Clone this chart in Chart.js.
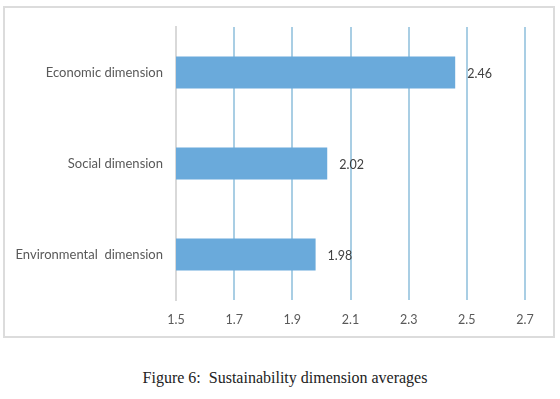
<!DOCTYPE html>
<html>
<head>
<meta charset="utf-8">
<script src="https://cdn.jsdelivr.net/npm/chart.js@4/dist/chart.umd.min.js"></script>
<style>
  body { margin: 0; background: #fff; width: 560px; height: 399px; position: relative; overflow: hidden; }
  #box { position: absolute; left: 3px; top: 6px; width: 548px; height: 328px; border: 2px solid #dcdcdc; }
  #box canvas { position: absolute; left: -2px; top: -2px; }
  #caption { position: absolute; left: 0; width: 570px; top: 369px; text-align: center;
             font-family: "Liberation Serif", serif; font-size: 16px; color: #222; }
</style>
</head>
<body>
<div id="box"><canvas id="chart" width="550" height="330"></canvas></div>
<div id="caption">Figure 6:&nbsp; Sustainability dimension averages</div>
<script>
const categories = ['Economic dimension', 'Social dimension', 'Environmental  dimension'];
const averages = [2.46, 2.02, 1.98];
const xTicks = [1.5, 1.7, 1.9, 2.1, 2.3, 2.5, 2.7];

const labelFont = { family: 'Lato, "Open Sans", sans-serif', size: 13 };
const tickFont = { family: 'Lato, "Open Sans", sans-serif', size: 12.5 };

// value labels to the right of each bar
const valueLabels = {
    id: 'valueLabels',
    afterDatasetsDraw(chart) {
        const ctx = chart.ctx;
        const meta = chart.getDatasetMeta(0);
        ctx.save();
        ctx.font = '12.5px Lato, "Open Sans", sans-serif';
        ctx.fillStyle = '#404040';
        ctx.textBaseline = 'middle';
        meta.data.forEach((bar, i) => {
            ctx.fillText(averages[i].toFixed(2), bar.x + 12, bar.y + 1);
        });
        ctx.restore();
    }
};

const CHART = document.getElementById('chart');
let barChart = new Chart(CHART, {
    type: 'bar',
    data: {
        labels: categories,
        datasets: [{
            data: averages,
            backgroundColor: '#6aaadb',
            borderWidth: 0,
            barPercentage: 0.35,
            categoryPercentage: 1
        }]
    },
    options: {
        indexAxis: 'y',
        responsive: false,
        animation: false,
        layout: { padding: { top: 21, right: 28, left: 0, bottom: 0 } },
        plugins: { legend: { display: false }, tooltip: { enabled: false } },
        scales: {
            x: {
                min: 1.5,
                max: 2.7,
                afterBuildTicks: (scale) => { scale.ticks = xTicks.map(v => ({ value: v })); },
                afterFit: (scale) => { scale.height = 36; },
                grid: {
                    drawTicks: false,
                    lineWidth: 2,
                    color: (c) => c.index === 0 ? '#d9d9d9' : '#a9cee4'
                },
                border: { display: false },
                ticks: {
                    padding: 12,
                    color: '#595959',
                    font: tickFont,
                    callback: (v) => Number(v).toFixed(1)
                }
            },
            y: {
                afterFit: (scale) => { scale.width = 173; },
                grid: { display: false, drawTicks: false },
                border: { display: true, color: '#d9d9d9', width: 2 },
                ticks: { padding: 13, color: '#595959', font: labelFont }
            }
        }
    },
    plugins: [valueLabels]
});
</script>
</body>
</html>
